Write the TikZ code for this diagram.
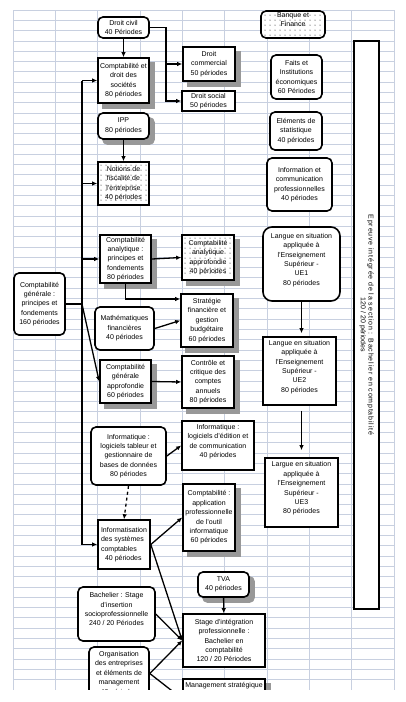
\documentclass[tikz,border=0pt]{standalone}
\usepackage{fontspec}
\setmainfont{Liberation Sans}
\usetikzlibrary{arrows.meta}
\definecolor{gridc}{RGB}{200,208,224}
\definecolor{shadc}{RGB}{152,152,152}
\pgfdeclarelayer{gridlayer}
\pgfdeclarelayer{shadowlayer}
\pgfsetlayers{gridlayer,shadowlayer,main}
\newcommand\shadowof[2][0pt]{\fill[shadc, rounded corners=#1] ([shift={(5pt,-5pt)}]#2.south west) rectangle ([shift={(5pt,-5pt)}]#2.north east);}
\newcommand\dotbox[6][0pt]{%
  \fill[white, rounded corners=#1] (#2.south west) rectangle (#2.north east);
  \foreach \xx in {#3,...,#4} \foreach \yy in {#5,...,#6} \fill[black] (\xx,\yy) circle (0.5pt);}
\begin{document}
\begin{tikzpicture}[x=1pt,y=-1pt,
  every node/.style={font=\fontsize{7}{9.4}\selectfont},
  box/.style={draw, line width=1.6pt, fill=white, align=center, inner sep=1pt},
  rbox/.style={box, rounded corners=5pt},
  nofill/.style={fill=none},
  arr/.style={line width=1.3pt, -{Latex[length=5pt,width=4.5pt]}},
  conn/.style={line width=1.3pt},
  gridl/.style={draw=gridc, line width=0.8pt},
  sz/.style 2 args={minimum width=#1pt, minimum height=#2pt},
]
\useasboundingbox (0,0) rectangle (405,702);
% spreadsheet grid
\begin{pgfonlayer}{gridlayer}
\fill[white] (0,0) rectangle (405,702);
\foreach \i in {0,...,9} \draw[gridl] ({13+\i*42.333},10) -- ({13+\i*42.333},690);
\foreach \j in {0,...,66} \draw[gridl] (13,{10+\j*10.303}) -- (394,{10+\j*10.303});
\end{pgfonlayer}

% nodes
\node[rbox, sz={51}{21}] (civil) at (123.5,27.5) {Droit civil\\40 Périodes};
\node[box, sz={51}{45}] (cds) at (123.5,80.5) {Comptabilité et\\droit des\\sociétés\\80 périodes};
\node[box, sz={52}{34}] (dcom) at (209,64) {Droit\\commercial\\50 périodes};
\node[box, sz={53}{20}] (dsoc) at (208.5,101) {Droit social\\50 périodes};
\node[rbox, sz={51}{26}] (ipp) at (123.5,126) {IPP\\80 périodes};
\node[box, nofill, sz={51}{43}] (fisc) at (123.5,183.5) {Notions de\\fiscalité de\\l'entreprise\\40 périodes};
\node[rbox, nofill, sz={64}{27}] (banque) at (293,24.5) {Banque et\\Finance\\[0pt]\mbox{}};
\node[rbox, sz={51}{44}] (faits) at (296.5,77) {Faits et\\Institutions\\économiques\\60 Périodes};
\node[rbox, sz={52}{38}] (stat) at (296,131) {Eléments de\\statistique\\40 périodes};
\node[rbox, sz={65}{53}] (infoc) at (299.5,184.5) {Information et\\communication\\professionnelles\\40 périodes};
\node[box, rounded corners=9pt, sz={77}{74}] (ue1) at (301.5,264) {Langue en situation\\appliquée à\\l'Enseignement\\Supérieur -\\UE1\\80 périodes\\[0pt]\mbox{}};
\node[box, sz={73}{68}] (ue2) at (299.5,371) {Langue en situation\\appliquée à\\l'Enseignement\\Supérieur -\\UE2\\80 périodes\\[0pt]\mbox{}};
\node[box, sz={73}{69}] (ue3) at (301.5,492.5) {Largue en situation\\appliquée à\\l'Enseignement\\Supérieur -\\UE3\\80 périodes\\[0pt]\mbox{}};
\node[box, rotate=-90, sz={568}{25}, font=\fontsize{7}{7.8}\selectfont] (epr) at (366.5,325) {{\addfontfeature{LetterSpace=12}Epreuve intégrée de la section : Bachelier en comptabilité}\\120 / 20 périodes};
\node[rbox, sz={51}{62}] (cg) at (39.5,304) {Comptabilité\\générale :\\principes et\\fondements\\160 périodes};
\node[box, sz={51}{48}] (can) at (125.5,259) {Comptabilité\\analytique :\\principes et\\fondements\\80 périodes};
\node[box, nofill, sz={52}{45}] (caa) at (208,257.5) {Comptabilité\\analytique\\approfondie\\40 périodes};
\node[box, sz={52}{53}] (strat) at (207,320.5) {Stratégie\\financière et\\gestion\\budgétaire\\60 périodes};
\node[rbox, sz={59}{43}] (math) at (124.5,328.5) {Mathématiques\\financières\\40 périodes};
\node[box, sz={51}{43}] (cga) at (125.5,381.5) {Comptabilité\\générale\\approfondie\\60 périodes};
\node[box, sz={52}{52}] (ctrl) at (208,382) {Contrôle et\\critique des\\comptes\\annuels\\80 périodes};
\node[rbox, sz={75}{58}] (inft) at (128.5,456) {Informatique :\\logiciels tableur et\\gestionnaire de\\bases de données\\80 périodes};
\node[box, sz={72}{49}] (infe) at (218,445.5) {Informatique :\\logiciels d'édition et\\de communication\\40 périodes\\[0pt]\mbox{}};
\node[box, sz={52}{49}, align=left] (infs) at (124,544.5) {Informatisation\\des systèmes\\comptables\\\hspace{4pt}40 périodes};
\node[box, sz={52}{67}] (capp) at (209,517.5) {Comptabilité :\\application\\professionnelle\\de l'outil\\informatique\\60 périodes};
\node[rbox, sz={51}{25}] (tva) at (223.5,584.5) {TVA\\40 périodes};
\node[box, sz={82}{53}] (stage) at (224,640.5) {Stage d'intégration\\professionnelle :\\Bachelier en\\comptabilité\\120 / 20 Périodes};
\node[rbox, sz={77}{54}] (bach) at (116.5,614) {Bachelier : Stage\\d'insertion\\socioprofessionnelle\\240 / 20 Périodes\\[0pt]\mbox{}};
\node[rbox, sz={60}{53}] (org) at (119,673.5) {Organisation\\des entreprises\\et éléments de\\management\\40 périodes};
\node[box, minimum width=82pt, anchor=north, text height=8pt, text depth=30pt] (mgmt) at (224,678) {Management stratégique};

% shadows and dotted fills
\begin{pgfonlayer}{shadowlayer}
\shadowof{cds}
\shadowof{dcom}
\shadowof[5pt]{ipp}
\shadowof{can}
\shadowof{caa}
\shadowof{strat}
\shadowof{cga}
\shadowof{ctrl}
\shadowof{capp}
\shadowof[5pt]{tva}
\shadowof{mgmt}
\dotbox{fisc}{101,106}{146}{165,170}{202}
\dotbox[5pt]{banque}{265,270}{320}{15,20}{35}
\dotbox{caa}{185,190}{230}{238,243}{277}
\end{pgfonlayer}

% junction coordinates
\coordinate (civJ) at (166,64);
\coordinate (busT) at (82,80.5);
\coordinate (busB) at (82,544.5);

% connectors
\draw[arr] (civil) -- (cds);
\draw[conn] (civil.east) -| (civJ);
\draw[arr] (civJ) |- (dsoc.west);
\draw[arr] (civJ) -- (dcom.west);
\draw[arr] (ipp) -- (fisc);
\draw[conn] (busT) -- (busB);
\draw[arr] (busT) -- (cds.west);
\draw[arr] (fisc.west -| busT) -- (fisc.west);
\draw[arr] (can.west -| busT) -- (can.west);
\draw[arr] (busB) -- (infs.west);
\draw[conn] (cg.east) -- (cg.east -| busT);
\draw[arr] (cg.east -| busT) -- (cga.west);
\draw[arr] (can.east) -- (caa.west);
\draw[arr] (can.south) |- ([yshift=21.5pt]strat.west);
\draw[arr] (math.east) -- (strat.west);
\draw[arr] (cga.east) -- (ctrl.west);
\draw[arr] (inft.east) -- (infe.west);
\draw[arr, dashed] (inft.south) -- (infs.north);
\draw[arr] (infs.east) -- (capp.west);
\draw[arr] (infs.east) -- (stage.west);
\draw[arr] (tva) -- (stage);
\draw[arr] (bach.east) -- (stage.west);
\draw[arr] (org.east) -- (stage.west);
\draw[arr] (org.east) -- (mgmt.west);
\draw[arr, shorten >=3pt] (ue1.south) -- (ue1.south |- ue2.north);
\draw[arr, shorten <=5pt, shorten >=7pt] (ue2.south -| ue1.south) -- (ue1.south |- ue3.north);

% page margin below the cut-off sheet
\fill[white] (0,690) rectangle (405,702);
\end{tikzpicture}
\end{document}
